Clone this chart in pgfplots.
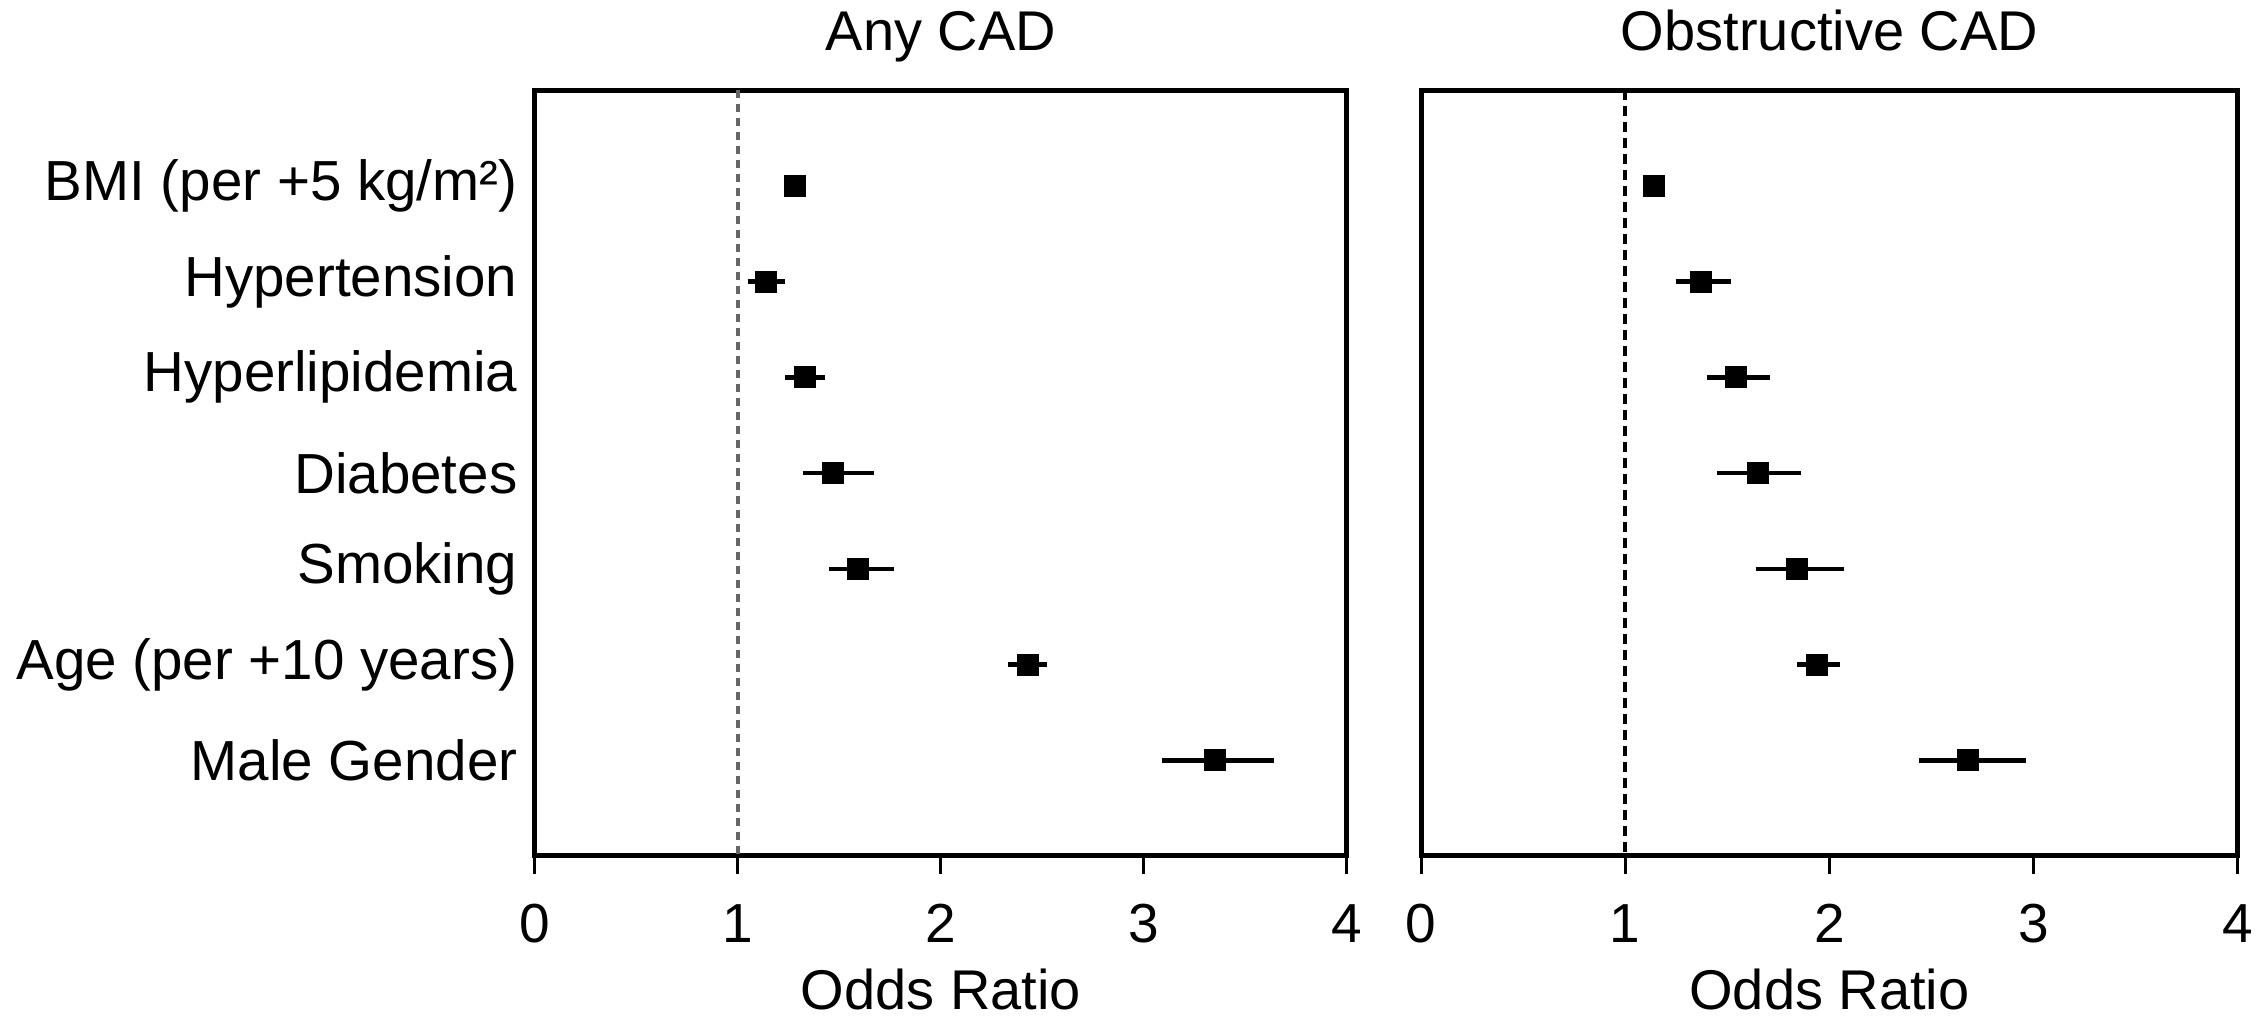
\documentclass[border=0pt]{standalone}
\usepackage{fontspec}
\setmainfont{Liberation Sans}
\usepackage{pgfplots}
\usepackage{pgfplotstable}
\pgfplotsset{compat=1.18}
\pgfplotstableread{
row or lo hi
1 1.28 1.23 1.33
2 1.14 1.05 1.23
3 1.33 1.23 1.43
4 1.47 1.32 1.67
5 1.59 1.45 1.77
6 2.43 2.33 2.52
7 3.35 3.09 3.64
}\anycad
\pgfplotstableread{
row or lo hi
1 1.14 1.10 1.18
2 1.37 1.25 1.52
3 1.54 1.40 1.71
4 1.65 1.45 1.86
5 1.84 1.64 2.07
6 1.94 1.84 2.05
7 2.68 2.44 2.96
}\obscad
\pgfplotsset{
  forest/.style={
    scale only axis,
    height=153.2pt,
    xmin=0, xmax=4, ymin=0, ymax=8,
    y dir=reverse,
    xtick={0,1,2,3,4},
    ytick={1,2,3,4,5,6,7},
    axis line style={line width=1pt},
    xtick align=outside,
    major tick length=3.6pt,
    tick style={line width=0.6pt, black},
    ytick style={draw=none},
    xtick pos=bottom,
    /pgf/number format/assume math mode=true,
    xticklabel style={font=\fontsize{11}{13}\selectfont, anchor=base, yshift=-13.6pt},
    yticklabel style={font=\fontsize{11.3}{13}\selectfont},
    title style={font=\fontsize{11.2}{13}\selectfont, at={(0.5,1)}, anchor=base, yshift=2.0pt},
    xlabel style={font=\fontsize{11.2}{13}\selectfont, at={(0.5,0)}, anchor=base, yshift=-30.8pt},
    xlabel={Odds Ratio},
    clip=false,
  },
  fp/.style={
    only marks, mark=square*, mark size=2pt, black,
    error bars/.cd, x dir=both, x explicit, error mark=none,
    error bar style={line width=0.9pt, black},
  },
}
\begin{document}
\begin{tikzpicture}
\begin{axis}[forest,
  at={(107pt,32pt)}, anchor=south west,
  width=162.4pt,
  title={Any CAD},
  yticklabels={{BMI (per +5 kg/m²)},Hypertension,Hyperlipidemia,Diabetes,Smoking,{Age (per +10 years)},Male Gender},
]
\addplot[black!60, line width=0.8pt, dash pattern=on 1.6pt off 1.2pt] coordinates {(1,0) (1,8)};
\addplot[fp] table[x=or, y=row,
  x error plus expr=\thisrow{hi}-\thisrow{or},
  x error minus expr=\thisrow{or}-\thisrow{lo}] {\anycad};
\end{axis}
\begin{axis}[forest,
  at={(284.2pt,32pt)}, anchor=south west,
  width=163.4pt,
  title={Obstructive CAD},
  yticklabels={},
]
\addplot[black, line width=0.7pt, dash pattern=on 2pt off 1.2pt] coordinates {(1,0) (1,8)};
\addplot[fp] table[x=or, y=row,
  x error plus expr=\thisrow{hi}-\thisrow{or},
  x error minus expr=\thisrow{or}-\thisrow{lo}] {\obscad};
\end{axis}
\pgfresetboundingbox
\path[use as bounding box] (0,0) rectangle (453.4pt,203.2pt);
\end{tikzpicture}
\end{document}
